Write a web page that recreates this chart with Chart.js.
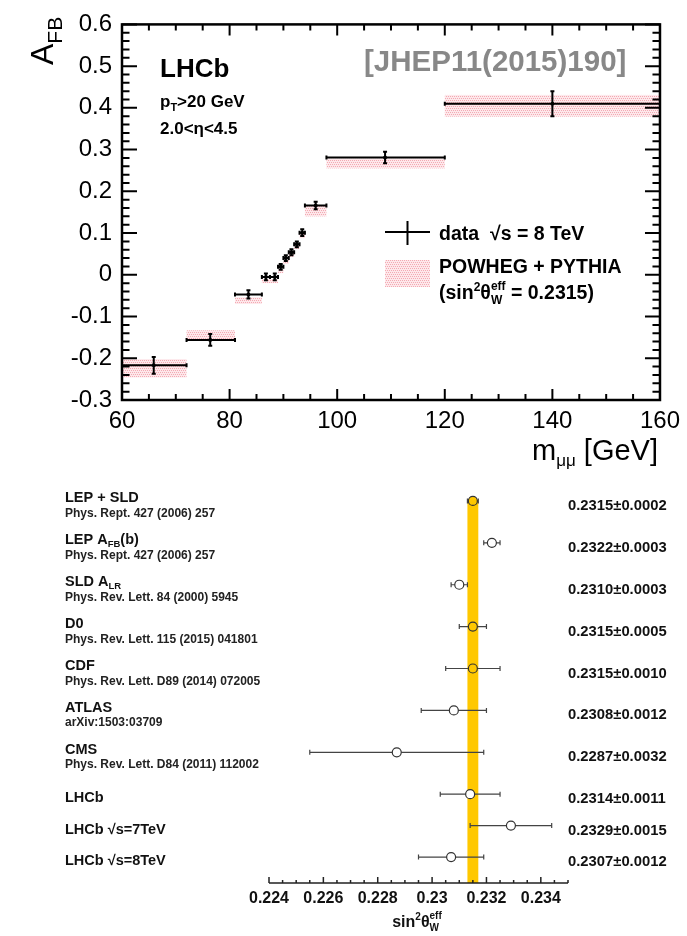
<!DOCTYPE html>
<html>
<head>
<meta charset="utf-8">
<script src="https://cdn.jsdelivr.net/npm/chart.js@4/dist/chart.umd.min.js"></script>
<style>
  html, body { margin: 0; padding: 0; background: #fff; }
  #wrap { position: relative; width: 687px; height: 936px; overflow: hidden; }
  canvas { position: absolute; left: 0; }
  #afbChart { top: 0; }
  #sinChart { top: 470px; }
</style>
</head>
<body>
<div id="wrap">
  <canvas id="afbChart" width="687" height="470"></canvas>
  <canvas id="sinChart" width="687" height="466"></canvas>
</div>
<script>
// ---- A_FB vs m_mumu ----
const massCentre = [65.9, 76.4, 83.5, 86.75, 88.4, 89.5, 90.45, 91.5, 92.5, 93.5, 96.0, 108.9, 140.0];
const massLow    = [60, 72, 81, 86, 87.5, 89, 90, 91, 92, 93, 94, 98, 120];
const massHigh   = [72, 81, 86, 87.5, 89, 90, 91, 92, 93, 94, 98, 120, 160];
const afbValue   = [-0.217, -0.156, -0.047, -0.005, -0.005, 0.019, 0.040, 0.054, 0.073, 0.101, 0.166, 0.281, 0.410];
const afbError   = [0.020, 0.014, 0.010, 0.008, 0.008, 0.007, 0.007, 0.007, 0.007, 0.008, 0.009, 0.014, 0.030];
const predLow    = [-0.246, -0.154, -0.070, -0.020, -0.020, 0.004, 0.026, 0.043, 0.062, 0.088, 0.140, 0.255, 0.379];
const predHigh   = [-0.202, -0.133, -0.054, -0.010, -0.010, 0.014, 0.036, 0.053, 0.072, 0.098, 0.165, 0.278, 0.431];
const massTicks  = [60, 80, 100, 120, 140, 160];
const afbTicks   = [-0.3, -0.2, -0.1, 0, 0.1, 0.2, 0.3, 0.4, 0.5, 0.6];

// ---- sin^2 theta_W^eff comparison ----
const measNames = ['LEP + SLD', 'LEP A_{FB}(b)', 'SLD A_{LR}', 'D0', 'CDF', 'ATLAS', 'CMS', 'LHCb', 'LHCb √s=7TeV', 'LHCb √s=8TeV'];
const measRefs  = ['Phys. Rept. 427 (2006) 257', 'Phys. Rept. 427 (2006) 257', 'Phys. Rev. Lett. 84 (2000) 5945',
                   'Phys. Rev. Lett. 115 (2015) 041801', 'Phys. Rev. Lett. D89 (2014) 072005', 'arXiv:1503:03709',
                   'Phys. Rev. Lett. D84 (2011) 112002', '', '', ''];
const sinValue  = [0.2315, 0.2322, 0.2310, 0.2315, 0.2315, 0.2308, 0.2287, 0.2314, 0.2329, 0.2307];
const sinError  = [0.0002, 0.0003, 0.0003, 0.0005, 0.0010, 0.0012, 0.0032, 0.0011, 0.0015, 0.0012];
const sinFilled = [true, false, false, true, true, false, false, false, false, false];
const sinTicks  = [0.224, 0.226, 0.228, 0.230, 0.232, 0.234];

const FAMILY = "'Liberation Sans', Arial, Helvetica, sans-serif";
Chart.defaults.font.family = FAMILY;
Chart.defaults.color = '#000';

// row layout for the comparison panel (last three rows are packed tighter)
const rowPos = [0, 1, 2, 3, 4, 5, 6, 7, 7.75, 8.5];

function font(size, bold) { return (bold ? 'bold ' : '') + size + 'px ' + FAMILY; }

// draws text with simple super/subscripts; returns width
function drawRich(ctx, x, y, parts, bold, measureOnly) {
  let cx = x;
  parts.forEach(p => {
    ctx.font = font(p.s, bold);
    if (p.sup !== undefined) {
      if (!measureOnly) {
        ctx.fillText(p.sup, cx, y - p.up);
        ctx.fillText(p.sub, cx, y + p.down);
      }
      cx += Math.max(ctx.measureText(p.sup).width, ctx.measureText(p.sub).width);
    } else {
      if (!measureOnly) ctx.fillText(p.t, cx, y + (p.dy || 0));
      cx += ctx.measureText(p.t).width;
    }
  });
  return cx - x;
}

// "A_{xy}" -> rich parts
function parseSub(str, size, subSize, subDy) {
  const parts = [];
  const re = /_\{([^}]*)\}/g;
  let last = 0, m;
  while ((m = re.exec(str)) !== null) {
    if (m.index > last) parts.push({ t: str.slice(last, m.index), s: size });
    parts.push({ t: m[1], s: subSize, dy: subDy });
    last = re.lastIndex;
  }
  if (last < str.length) parts.push({ t: str.slice(last), s: size });
  return parts;
}

function pinkFill(ctx) {
  const c = document.createElement('canvas');
  c.width = 4; c.height = 4;
  const p = c.getContext('2d');
  p.fillStyle = '#fde8eb';
  p.fillRect(0, 0, 4, 4);
  p.fillStyle = '#f4a9b2';
  p.fillRect(0, 0, 1, 1); p.fillRect(2, 0, 1, 1);
  p.fillRect(1, 2, 1, 1); p.fillRect(3, 2, 1, 1);
  return ctx.createPattern(c, 'repeat');
}

// ============ top panel ============
const afbDecor = {
  id: 'afbDecor',
  beforeDatasetsDraw(chart) {
    const { ctx, chartArea: a, scales: { x, y } } = chart;
    ctx.save();
    ctx.beginPath();
    ctx.rect(a.left, a.top, a.width, a.height);
    ctx.clip();
    // prediction bands
    ctx.fillStyle = pinkFill(ctx);
    massLow.forEach((lo, i) => {
      const x0 = x.getPixelForValue(lo), x1 = x.getPixelForValue(massHigh[i]);
      const y0 = y.getPixelForValue(predHigh[i]), y1 = y.getPixelForValue(predLow[i]);
      ctx.fillRect(x0, y0, x1 - x0, y1 - y0);
    });
    // data crosses
    ctx.strokeStyle = '#000';
    ctx.lineWidth = 2;
    massCentre.forEach((m, i) => {
      const px = x.getPixelForValue(m), py = y.getPixelForValue(afbValue[i]);
      const xl = x.getPixelForValue(massLow[i]), xr = x.getPixelForValue(massHigh[i]);
      const yt = y.getPixelForValue(afbValue[i] + afbError[i]);
      const yb = y.getPixelForValue(afbValue[i] - afbError[i]);
      ctx.beginPath();
      ctx.moveTo(xl, py); ctx.lineTo(xr, py);
      ctx.moveTo(px, yt); ctx.lineTo(px, yb);
      ctx.moveTo(xl, py - 2); ctx.lineTo(xl, py + 2);
      ctx.moveTo(xr, py - 2); ctx.lineTo(xr, py + 2);
      ctx.moveTo(px - 2, yt); ctx.lineTo(px + 2, yt);
      ctx.moveTo(px - 2, yb); ctx.lineTo(px + 2, yb);
      ctx.stroke();
    });
    ctx.restore();
  },
  afterDraw(chart) {
    const { ctx, chartArea: a, scales: { x, y } } = chart;
    ctx.save();
    // frame
    ctx.strokeStyle = '#000';
    ctx.lineWidth = 2.5;
    ctx.strokeRect(a.left, a.top, a.width, a.height);
    // ticks on all four sides
    ctx.lineWidth = 2;
    ctx.beginPath();
    for (let k = 0; k <= 20; k++) {
      const v = x.min + k * 5;
      const px = x.getPixelForValue(v);
      const len = (v % 20 === 0) ? 11 : 6;
      ctx.moveTo(px, a.bottom); ctx.lineTo(px, a.bottom - len);
      ctx.moveTo(px, a.top); ctx.lineTo(px, a.top + len);
    }
    for (let k = 0; k <= 45; k++) {
      const py = y.getPixelForValue(y.min + k * 0.02);
      const len = (k % 5 === 0) ? 15 : 7.5;
      ctx.moveTo(a.left, py); ctx.lineTo(a.left + len, py);
      ctx.moveTo(a.right, py); ctx.lineTo(a.right - len, py);
    }
    ctx.stroke();

    ctx.fillStyle = '#000';
    ctx.textBaseline = 'alphabetic';
    ctx.textAlign = 'left';

    // y title, rotated
    ctx.save();
    ctx.translate(53, 65);
    ctx.rotate(-Math.PI / 2);
    drawRich(ctx, 0, 0, [{ t: 'A', s: 32 }, { t: 'FB', s: 21, dy: 9 }], false);
    ctx.restore();

    // x title, right aligned to the frame
    const xTitle = [{ t: 'm', s: 29 }, { t: 'μμ', s: 17, dy: 6 }, { t: ' [GeV]', s: 29 }];
    const w = drawRich(ctx, 0, 0, xTitle, false, true);
    drawRich(ctx, 658 - w, 460, xTitle, false);

    // experiment labels
    ctx.font = font(26, true);
    ctx.fillText('LHCb', 160, 77);
    drawRich(ctx, 160, 107, [{ t: 'p', s: 17 }, { t: 'T', s: 11, dy: 4 }, { t: '>20 GeV', s: 17 }], true);
    ctx.font = font(17, true);
    ctx.fillText('2.0<η<4.5', 160, 134);
    ctx.fillStyle = '#888';
    ctx.font = font(29.5, true);
    ctx.fillText('[JHEP11(2015)190]', 364, 71);

    // legend
    ctx.fillStyle = pinkFill(ctx);
    ctx.fillRect(385, 260, 45, 27);
    ctx.strokeStyle = '#000';
    ctx.lineWidth = 2;
    ctx.beginPath();
    ctx.moveTo(385, 232); ctx.lineTo(430, 232);
    ctx.moveTo(407.5, 221); ctx.lineTo(407.5, 245);
    ctx.stroke();
    ctx.fillStyle = '#000';
    ctx.font = font(19.5, true);
    ctx.fillText('data  √s = 8 TeV', 439, 240);
    ctx.fillText('POWHEG + PYTHIA', 439, 273);
    drawRich(ctx, 439, 299, [
      { t: '(sin', s: 19.5 }, { t: '2', s: 12, dy: -8 }, { t: 'θ', s: 19.5 },
      { sup: 'eff', sub: 'W', s: 12, up: 9, down: 5 }, { t: ' = 0.2315)', s: 19.5 }
    ], true);
    ctx.restore();
  }
};

new Chart(document.getElementById('afbChart').getContext('2d'), {
  type: 'scatter',
  data: {
    datasets: [{
      data: massCentre.map((m, i) => ({ x: m, y: afbValue[i] })),
      pointRadius: 2,
      pointBackgroundColor: '#000',
      pointBorderWidth: 0,
      showLine: false
    }]
  },
  options: {
    responsive: false,
    animation: false,
    layout: { padding: { left: 0, right: 24, top: 19, bottom: 0 } },
    plugins: { legend: { display: false }, tooltip: { enabled: false } },
    scales: {
      x: {
        type: 'linear', min: 60, max: 160,
        afterBuildTicks: s => { s.ticks = massTicks.map(v => ({ value: v })); },
        afterFit: s => { s.height = 70; },
        grid: { display: false, drawTicks: false },
        border: { display: false },
        ticks: { font: { size: 24 }, color: '#000', padding: 7, maxRotation: 0, callback: v => String(v) }
      },
      y: {
        type: 'linear', min: -0.3, max: 0.6,
        afterBuildTicks: s => { s.ticks = afbTicks.map(v => ({ value: v })); },
        afterFit: s => { s.width = 122; },
        grid: { display: false, drawTicks: false },
        border: { display: false },
        ticks: { font: { size: 24 }, color: '#000', padding: 10, callback: v => String(Math.round(v * 10) / 10) }
      }
    }
  },
  plugins: [afbDecor]
});

// ============ bottom panel ============
const sinDecor = {
  id: 'sinDecor',
  beforeDatasetsDraw(chart) {
    const { ctx, chartArea: a, scales: { x, y } } = chart;
    ctx.save();
    // world average band
    const bx0 = x.getPixelForValue(sinValue[0] - sinError[0]);
    const bx1 = x.getPixelForValue(sinValue[0] + sinError[0]);
    ctx.fillStyle = '#FFC800';
    ctx.fillRect(bx0, y.getPixelForValue(rowPos[0]), bx1 - bx0, a.bottom - y.getPixelForValue(rowPos[0]));
    // error bars
    ctx.strokeStyle = '#444';
    ctx.lineWidth = 1.2;
    sinValue.forEach((v, i) => {
      const py = y.getPixelForValue(rowPos[i]);
      const xl = x.getPixelForValue(v - sinError[i]), xr = x.getPixelForValue(v + sinError[i]);
      ctx.beginPath();
      ctx.moveTo(xl, py); ctx.lineTo(xr, py);
      ctx.moveTo(xl, py - 2.5); ctx.lineTo(xl, py + 2.5);
      ctx.moveTo(xr, py - 2.5); ctx.lineTo(xr, py + 2.5);
      ctx.stroke();
    });
    ctx.restore();
  },
  afterDraw(chart) {
    const { ctx, chartArea: a, scales: { x, y } } = chart;
    ctx.save();
    // axis line with upward ticks
    ctx.strokeStyle = '#222';
    ctx.lineWidth = 1.5;
    ctx.beginPath();
    ctx.moveTo(a.left, a.bottom); ctx.lineTo(a.right, a.bottom);
    for (let k = 0; k <= 22; k++) {
      const px = x.getPixelForValue(x.min + k * 0.0005);
      const len = (k % 4 === 0) ? 6 : 3;
      ctx.moveTo(px, a.bottom); ctx.lineTo(px, a.bottom - len);
    }
    ctx.stroke();

    ctx.textAlign = 'left';
    ctx.textBaseline = 'alphabetic';
    measNames.forEach((name, i) => {
      const py = y.getPixelForValue(rowPos[i]);
      ctx.fillStyle = '#111';
      const nameY = measRefs[i] ? py + 1.5 : py + 8;
      drawRich(ctx, 65, nameY, parseSub(name, 14.5, 9.5, 3), true);
      if (measRefs[i]) {
        ctx.fillStyle = '#222';
        ctx.font = font(12, true);
        ctx.fillText(measRefs[i], 65, py + 16);
      }
      ctx.fillStyle = '#111';
      ctx.font = font(14.8, true);
      ctx.fillText(sinValue[i].toFixed(4) + '±' + sinError[i].toFixed(4), 568, py + 9);
    });

    // axis title
    const title = [
      { t: 'sin', s: 16 }, { t: '2', s: 10, dy: -7 }, { t: 'θ', s: 16 },
      { sup: 'eff', sub: 'W', s: 10, up: 8, down: 4 }
    ];
    ctx.fillStyle = '#111';
    const tw = drawRich(ctx, 0, 0, title, true, true);
    drawRich(ctx, 417 - tw / 2, 457, title, true);
    ctx.restore();
  }
};

new Chart(document.getElementById('sinChart').getContext('2d'), {
  type: 'scatter',
  data: {
    datasets: [{
      data: sinValue.map((v, i) => ({ x: v, y: rowPos[i] })),
      pointRadius: 4.5,
      pointBorderWidth: 1.2,
      pointBorderColor: '#333',
      pointBackgroundColor: sinFilled.map(f => f ? '#FFC800' : '#fff'),
      showLine: false
    }]
  },
  options: {
    responsive: false,
    animation: false,
    layout: { padding: { left: 269, right: 119, top: 10, bottom: 0 } },
    plugins: { legend: { display: false }, tooltip: { enabled: false } },
    scales: {
      x: {
        type: 'linear', min: 0.224, max: 0.235,
        afterBuildTicks: s => { s.ticks = sinTicks.map(v => ({ value: v })); },
        afterFit: s => { s.height = 53; },
        grid: { display: false, drawTicks: false },
        border: { display: false },
        ticks: { font: { size: 16, weight: 'bold' }, color: '#111', padding: 6, maxRotation: 0,
                 callback: v => String(+v.toFixed(3)) }
      },
      y: {
        type: 'linear', min: -0.5, max: 9.12, reverse: true, display: false
      }
    }
  },
  plugins: [sinDecor]
});
</script>
</body>
</html>
